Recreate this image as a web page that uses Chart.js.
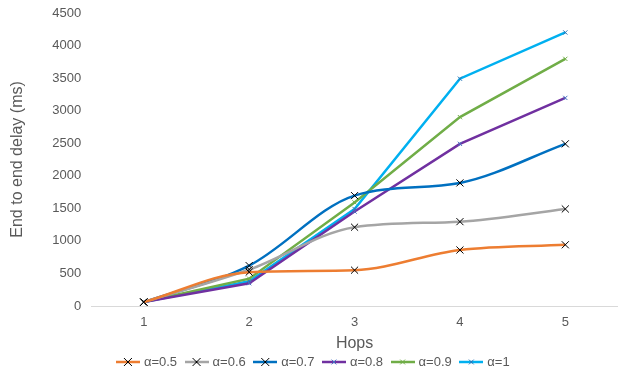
<!DOCTYPE html>
<html><head><meta charset="utf-8">
<script src="https://cdn.jsdelivr.net/npm/chart.js@4"></script>
<style>html,body{margin:0;padding:0;background:#fff}#w{width:618px;height:371px}canvas{display:block}</style>
</head><body><div id="w"><canvas id="c"></canvas></div>
<script>
const hops = ['1','2','3','4','5'];
const yTicks = [0,500,1000,1500,2000,2500,3000,3500,4000,4500];
const a05 = [60, 520, 550, 860, 940];
const a06 = [60, 560, 1210, 1295, 1490];
const a07 = [60, 620, 1695, 1890, 2490];
const a08 = [60, 350, 1450, 2490, 3195];
const a09 = [60, 420, 1590, 2900, 3795];
const a10 = [60, 380, 1490, 3490, 4200];
const names = ['α=0.5','α=0.6','α=0.7','α=0.8','α=0.9','α=1'];

const colors = ['#ED7D31','#A5A5A5','#0070C0','#7030A0','#70AD47','#00B0F0'];
const markColors = ['#000','#000','#000','#4472C4','#70AD47','#2E75B6'];
const radii = [5,5,5,3,3,3];
const smooth = [true,true,true,false,false,false];
const series = [a05,a06,a07,a08,a09,a10];
const FONT = 'Liberation Sans, Arial, sans-serif';

function legendIcon(i){
  const c = document.createElement('canvas');
  c.width = 24; c.height = 10;
  const g = c.getContext('2d');
  g.strokeStyle = colors[i]; g.lineWidth = 2.5;
  g.beginPath(); g.moveTo(0,5); g.lineTo(24,5); g.stroke();
  g.strokeStyle = markColors[i]; g.lineWidth = 1;
  const r = radii[i]*0.8;
  g.beginPath(); g.moveTo(12-r,5-r); g.lineTo(12+r,5+r); g.moveTo(12-r,5+r); g.lineTo(12+r,5-r); g.stroke();
  return c;
}

const datasets = series.map((d,i)=>({
  label: names[i], data: d,
  borderColor: colors[i], backgroundColor: colors[i], borderWidth: 2.5,
  tension: smooth[i] ? 0.4 : 0,
  cubicInterpolationMode: smooth[i] ? 'monotone' : 'default',
  pointStyle: 'crossRot', pointRadius: radii[i], pointBorderColor: markColors[i], pointBorderWidth: 1,
  pointHoverRadius: radii[i]
}));

new Chart(document.getElementById('c'), {
  type: 'line',
  data: { labels: hops, datasets },
  options: {
    responsive: true, maintainAspectRatio: false, animation: false,
    layout: { autoPadding: false, padding: { top: 3, right: -2, left: 8, bottom: -7.5 } },
    plugins: {
      tooltip: { enabled: false },
      legend: {
        position: 'bottom',
        labels: {
          usePointStyle: true, pointStyleWidth: 19, color: '#595959', boxWidth: 19, boxHeight: 10, padding: 10,
          font: { family: FONT, size: 13 },
          generateLabels: (chart) => chart.data.datasets.map((ds,i)=>({
            text: ds.label, pointStyle: legendIcon(i), fontColor: '#595959',
            strokeStyle: colors[i], fillStyle: colors[i], lineWidth: 0, datasetIndex: i, hidden: false
          }))
        }
      }
    },
    scales: {
      x: {
        type: 'category', offset: true,
        grid: { display: false, drawTicks: false },
        border: { color: '#D9D9D9', width: 1 },
        ticks: { color: '#595959', font: { family: FONT, size: 13, lineHeight: 1 }, padding: 9.5 },
        title: { display: true, text: 'Hops', color: '#595959', font: { family: FONT, size: 16, lineHeight: 1 }, padding: { top: -2, bottom: -6.5 } }
      },
      y: {
        min: 0, max: 4500,
        afterBuildTicks: (ax) => { ax.ticks = yTicks.map(v=>({value:v})); },
        grid: { display: false, drawTicks: false },
        border: { display: false },
        ticks: { color: '#595959', font: { family: FONT, size: 13, lineHeight: 0.45 }, padding: 10, callback: (v) => String(v) },
        title: { display: true, text: 'End to end delay (ms)', color: '#595959', font: { family: FONT, size: 16, lineHeight: 1.2 }, padding: { top: 0, bottom: 15 } }
      }
    }
  }
});
</script>
</body></html>
